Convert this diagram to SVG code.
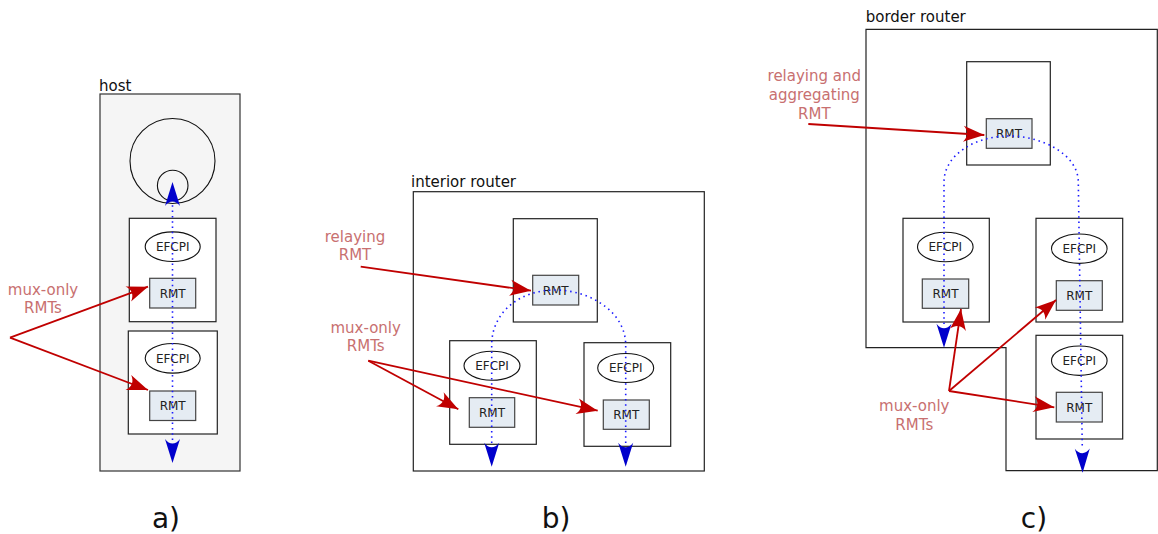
<svg xmlns="http://www.w3.org/2000/svg" width="1158" height="534" viewBox="0 0 1158 534">
<defs>
<style>
text{font-family:"DejaVu Sans","Liberation Sans",sans-serif;}
.title{font-size:15px;fill:#111;}
.box{fill:#fff;stroke:#222;stroke-width:1.2;}
.ell{fill:#fff;stroke:#111;stroke-width:1.1;}
.rmt{fill:#e5ecf3;stroke:#444;stroke-width:1.2;}
.lbl{font-size:12px;fill:#222;text-anchor:middle;}
.note{font-size:15px;fill:#c87070;text-anchor:middle;}
.red{fill:none;stroke:#c00000;stroke-width:1.8;marker-end:url(#ra);}
.blue{fill:none;stroke:#1a1aff;stroke-width:1.6;stroke-dasharray:1.5 3.8;}
.cap{font-size:28px;fill:#111;text-anchor:middle;}
</style>
<marker id="ra" markerUnits="userSpaceOnUse" viewBox="-22 -9 23 18" refX="0" refY="0" markerWidth="23" markerHeight="18" orient="auto">
<path d="M0,0 L-21,-8 C-16,-3 -16,3 -21,8 Z" fill="#c00000"/>
</marker>
<marker id="ba" markerUnits="userSpaceOnUse" viewBox="-25 -9 26 18" refX="0" refY="0" markerWidth="26" markerHeight="18" orient="auto">
<path d="M0,0 L-24,-7.5 C-18,-3 -18,3 -24,7.5 Z" fill="#0000cc"/>
</marker>
</defs>

<!-- Panel a: host -->
<g id="host">
<rect x="100" y="94" width="140" height="377" fill="#f5f5f5" stroke="#333" stroke-width="1.2"/>
<text class="title" x="99" y="91">host</text>
<circle cx="172.5" cy="161" r="42.5" fill="none" stroke="#111" stroke-width="1.1"/>
<circle cx="172.7" cy="185.5" r="15.3" fill="none" stroke="#111" stroke-width="1.1"/>
</g>
<g id="a-proc1">
<rect class="box" x="129.3" y="218.3" width="86.7" height="103.4"/>
<ellipse class="ell" cx="172.7" cy="246.7" rx="27.5" ry="14.8"/>
<text class="lbl" x="172.7" y="251">EFCPI</text>
</g>
<g id="a-rmt1">
<rect class="rmt" x="149.7" y="278.3" width="46" height="29.7"/>
<text class="lbl" x="172.7" y="297.5">RMT</text>
</g>
<g id="a-proc2">
<rect class="box" x="128.3" y="331" width="89" height="103"/>
<ellipse class="ell" cx="172.7" cy="358.3" rx="27.5" ry="14.8"/>
<text class="lbl" x="172.7" y="362.6">EFCPI</text>
</g>
<g id="a-rmt2">
<rect class="rmt" x="149.7" y="391" width="46" height="29.5"/>
<text class="lbl" x="172.7" y="410">RMT</text>
</g>
<g id="a-note">
<text class="note" x="43" y="295">mux-only</text>
<text class="note" x="43" y="313">RMTs</text>
</g>

<!-- Panel b: interior router -->
<g id="interior-router">
<rect class="box" x="413.3" y="191.7" width="291" height="279.3"/>
<text class="title" x="411" y="187">interior router</text>
</g>
<g id="b-top">
<rect class="box" x="513.3" y="218.7" width="84" height="103.3"/>
</g>
<g id="b-rmt-top">
<rect class="rmt" x="532.7" y="275.3" width="46" height="29.7"/>
<text class="lbl" x="555.7" y="295">RMT</text>
</g>
<g id="b-left">
<rect class="box" x="449.7" y="340.7" width="86.6" height="103.6"/>
<ellipse class="ell" cx="492" cy="365.7" rx="28" ry="14.5"/>
<text class="lbl" x="492" y="370">EFCPI</text>
</g>
<g id="b-rmt-left">
<rect class="rmt" x="469.3" y="397.7" width="45.4" height="29.6"/>
<text class="lbl" x="492" y="417">RMT</text>
</g>
<g id="b-right">
<rect class="box" x="584" y="342.7" width="86.7" height="103.6"/>
<ellipse class="ell" cx="625.7" cy="368" rx="28" ry="14.5"/>
<text class="lbl" x="625.7" y="372.3">EFCPI</text>
</g>
<g id="b-rmt-right">
<rect class="rmt" x="603.3" y="400" width="46" height="29.3"/>
<text class="lbl" x="626.3" y="419.3">RMT</text>
</g>
<g id="b-notes">
<text class="note" x="355" y="241.5">relaying</text>
<text class="note" x="355" y="259.5">RMT</text>
<text class="note" x="365.7" y="333.3">mux-only</text>
<text class="note" x="365.7" y="351">RMTs</text>
</g>

<!-- Panel c: border router -->
<g id="border-router">
<path d="M866,29.3 H1157.3 V470.7 H1006 V347.7 H866 Z" fill="#fff" stroke="#222" stroke-width="1.2"/>
<text class="title" x="865.7" y="22">border router</text>
</g>
<g id="c-top">
<rect class="box" x="966.7" y="61.7" width="83.6" height="103.3"/>
</g>
<g id="c-rmt-top">
<rect class="rmt" x="986.3" y="118.7" width="45.7" height="29.6"/>
<text class="lbl" x="1009" y="138">RMT</text>
</g>
<g id="c-left">
<rect class="box" x="903" y="218.3" width="86.3" height="103.7"/>
<ellipse class="ell" cx="945.3" cy="247" rx="27.8" ry="14.7"/>
<text class="lbl" x="945.3" y="251.3">EFCPI</text>
</g>
<g id="c-rmt-left">
<rect class="rmt" x="922.3" y="279" width="46.4" height="29.3"/>
<text class="lbl" x="945.5" y="298.3">RMT</text>
</g>
<g id="c-right1">
<rect class="box" x="1036" y="218.3" width="86.7" height="103.7"/>
<ellipse class="ell" cx="1079.3" cy="248.7" rx="27.8" ry="14.7"/>
<text class="lbl" x="1079.3" y="253">EFCPI</text>
</g>
<g id="c-rmt-right1">
<rect class="rmt" x="1056.3" y="280.7" width="46" height="29.6"/>
<text class="lbl" x="1079.3" y="300">RMT</text>
</g>
<g id="c-right2">
<rect class="box" x="1036" y="335.3" width="86.7" height="103.7"/>
<ellipse class="ell" cx="1079.3" cy="360.7" rx="27.8" ry="14.7"/>
<text class="lbl" x="1079.3" y="365">EFCPI</text>
</g>
<g id="c-rmt-right2">
<rect class="rmt" x="1056.3" y="392.3" width="46" height="29.7"/>
<text class="lbl" x="1079.3" y="411.5">RMT</text>
</g>
<g id="c-notes">
<text class="note" x="814.3" y="81">relaying and</text>
<text class="note" x="814.3" y="100">aggregating</text>
<text class="note" x="814.3" y="119">RMT</text>
<text class="note" x="914.3" y="411">mux-only</text>
<text class="note" x="914.3" y="430">RMTs</text>
</g>

<!-- Captions -->
<g id="captions">
<text class="cap" x="166" y="528">a)</text>
<text class="cap" x="556" y="528">b)</text>
<text class="cap" x="1034" y="528">c)</text>
</g>

<!-- Connectors -->
<g id="connectors">
<path class="blue" d="M172.5,440 V205"/>
<path d="M172.5,205 V182" stroke="none" fill="none" marker-end="url(#ba)"/>
<path d="M172.5,440 V463" stroke="none" fill="none" marker-end="url(#ba)"/>
<path class="blue" d="M491.7,443 V345 C491.7,312 520,290 555,290 C590,290 625.7,312 625.7,345 V443"/>
<path d="M491.7,443 V466.7" stroke="none" fill="none" marker-end="url(#ba)"/>
<path d="M625.7,443 V466.7" stroke="none" fill="none" marker-end="url(#ba)"/>
<path class="blue" d="M944,324 V182 C944,155 975,136 1009,136 C1043,136 1078.3,155 1078.3,182 L1082.3,449"/>
<path d="M944,324 V347.7" stroke="none" fill="none" marker-end="url(#ba)"/>
<path d="M1082.3,449 L1082.6,472.7" stroke="none" fill="none" marker-end="url(#ba)"/>
<path class="red" d="M10,337.7 L148,286.7"/>
<path class="red" d="M10,337.7 L148,390"/>
<path class="red" d="M360.7,266.7 L531,290.7"/>
<path class="red" d="M368.3,360.7 L458.3,409.3"/>
<path class="red" d="M368.3,360.7 L597.7,410.7"/>
<path class="red" d="M808.3,124 L984.3,135"/>
<path class="red" d="M949,391 L961,309"/>
<path class="red" d="M949,391 L1056,300"/>
<path class="red" d="M949,391 L1054.3,407.3"/>
</g>
</svg>
